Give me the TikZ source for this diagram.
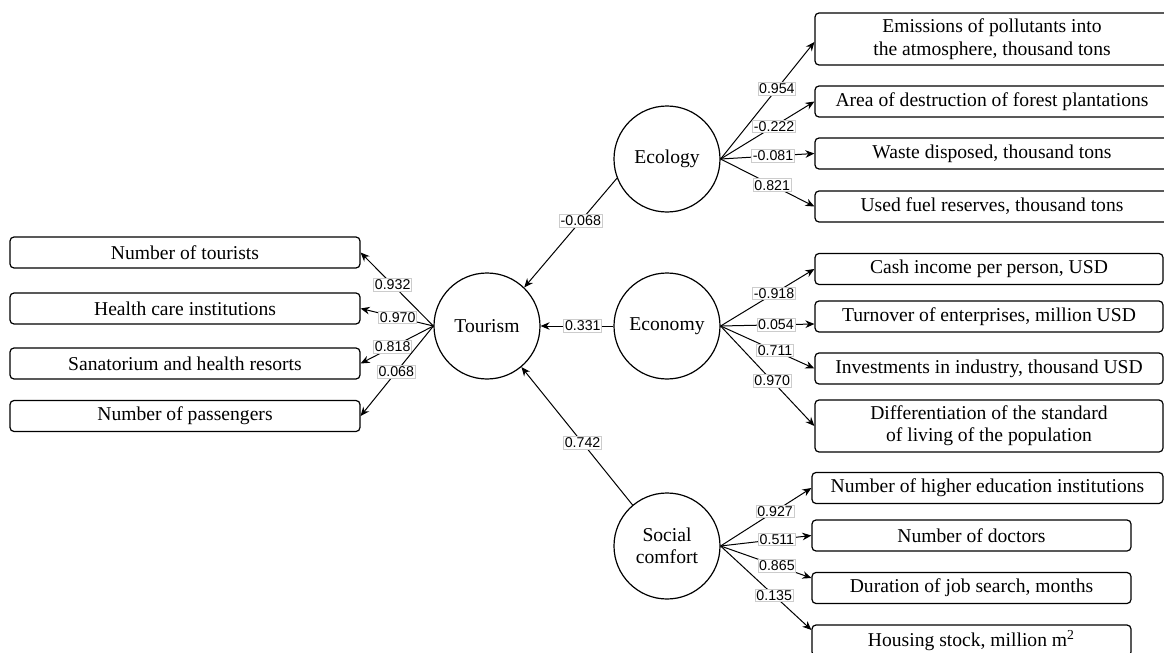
\documentclass[tikz,border=0pt]{standalone}
\usepackage{fontspec}
\setmainfont{Liberation Serif}
\newfontfamily\weightfont{Liberation Sans}
\usetikzlibrary{arrows.meta}

\tikzset{
  factor/.style={circle,draw,line width=0.6pt,minimum size=53pt,inner sep=0pt,
    align=center,font=\fontsize{9.8}{10.8}\selectfont},
  indicator/.style={rectangle,draw,rounded corners=2pt,line width=0.6pt,
    minimum height=15.5pt,inner sep=1pt,align=center,
    font=\fontsize{9.8}{11.2}\selectfont},
  weight/.style={draw=gray!40,line width=0.4pt,fill=white,inner sep=0.6pt,
    font=\weightfont\fontsize{7.1}{8}\selectfont},
  link/.style={-{Stealth[length=4.5pt,width=3.8pt]},line width=0.5pt},
}

\begin{document}
\begin{tikzpicture}[x=0.5pt,y=-0.5pt]
  % Page (pixel grid of the reference)
  \useasboundingbox (0,0) rectangle (1164,653);

  % Latent factors
  \node[factor] (tourism) at (487,326) {Tourism};
  \node[factor] (ecology) at (667,159) {Ecology};
  \node[factor] (economy) at (667,326) {Economy};
  \node[factor] (social)  at (667,546) {Social\\comfort};

  % Tourism indicators (left)
  \node[indicator,minimum width=175pt] (tourists)   at (185,252.5) {Number of tourists};
  \node[indicator,minimum width=175pt] (health)     at (185,308.5) {Health care institutions};
  \node[indicator,minimum width=175pt] (sanatorium) at (185,363.5) {Sanatorium and health resorts};
  \node[indicator,minimum width=175pt] (passengers) at (185,416)   {Number of passengers};

  % Ecology indicators
  \node[indicator,minimum width=177pt,minimum height=26pt] (emissions) at (992,39)
    {Emissions of pollutants into\\the atmosphere, thousand tons};
  \node[indicator,minimum width=177pt] (forest) at (992,101.5) {Area of destruction of forest plantations};
  \node[indicator,minimum width=177pt] (waste)  at (992,153.5) {Waste disposed, thousand tons};
  \node[indicator,minimum width=177pt] (fuel)   at (992,206.5) {Used fuel reserves, thousand tons};

  % Economy indicators
  \node[indicator,minimum width=174pt] (income)   at (989,269)   {Cash income per person, USD};
  \node[indicator,minimum width=174pt] (turnover) at (989,316.5) {Turnover of enterprises, million USD};
  \node[indicator,minimum width=174pt] (invest)   at (989,368.5) {Investments in industry, thousand USD};
  \node[indicator,minimum width=174pt,minimum height=26pt] (living) at (989,426)
    {Differentiation of the standard\\of living of the population};

  % Social comfort indicators
  \node[indicator,minimum width=175.5pt] (higher)  at (987.5,488) {Number of higher education institutions};
  \node[indicator,minimum width=159.5pt] (doctors) at (971.5,535.5) {Number of doctors};
  \node[indicator,minimum width=159.5pt] (jobs)    at (971.5,588) {Duration of job search, months};
  \node[indicator,minimum width=159.5pt] (housing) at (971.5,640.5) {Housing stock, million m\textsuperscript{2}};

  % Paths between factors
  \draw[link] (ecology.201) -- (tourism.46)  node[weight,pos=0.39] {-0.068};
  \draw[link] (economy.west) -- (tourism.east) node[weight,pos=0.42] {0.331};
  \draw[link] (social.130) -- (tourism.310)  node[weight,pos=0.45] {0.742};

  % Loadings
  \foreach \dst/\p/\w in {tourists/0.56/0.932, health/0.49/0.970,
                          sanatorium/0.56/0.818, passengers/0.51/0.068}
    \draw[link] (tourism.west) -- (\dst.east) node[weight,pos=\p] {\w};

  \foreach \dst/\dy/\p/\w in {emissions/-1.5/0.6/0.954, forest/0/0.57/-0.222,
                              waste/0/0.56/-0.081, fuel/0/0.55/0.821}
    \draw[link] (ecology.east) -- ([yshift=\dy pt]\dst.west) node[weight,pos=\p] {\w};

  \foreach \dst/\dy/\p/\w in {income/0/0.57/-0.918, turnover/-3.75/0.59/0.054,
                              invest/0/0.58/0.711, living/0/0.55/0.970}
    \draw[link] (economy.east) -- ([yshift=\dy pt]\dst.west) node[weight,pos=\p] {\w};

  \foreach \dst/\dy/\p/\w in {higher/0/0.6/0.927, doctors/0/0.62/0.511,
                              jobs/5/0.62/0.865, housing/5.25/0.59/0.135}
    \draw[link] (social.east) -- ([yshift=\dy pt]\dst.west) node[weight,pos=\p] {\w};
\end{tikzpicture}
\end{document}
